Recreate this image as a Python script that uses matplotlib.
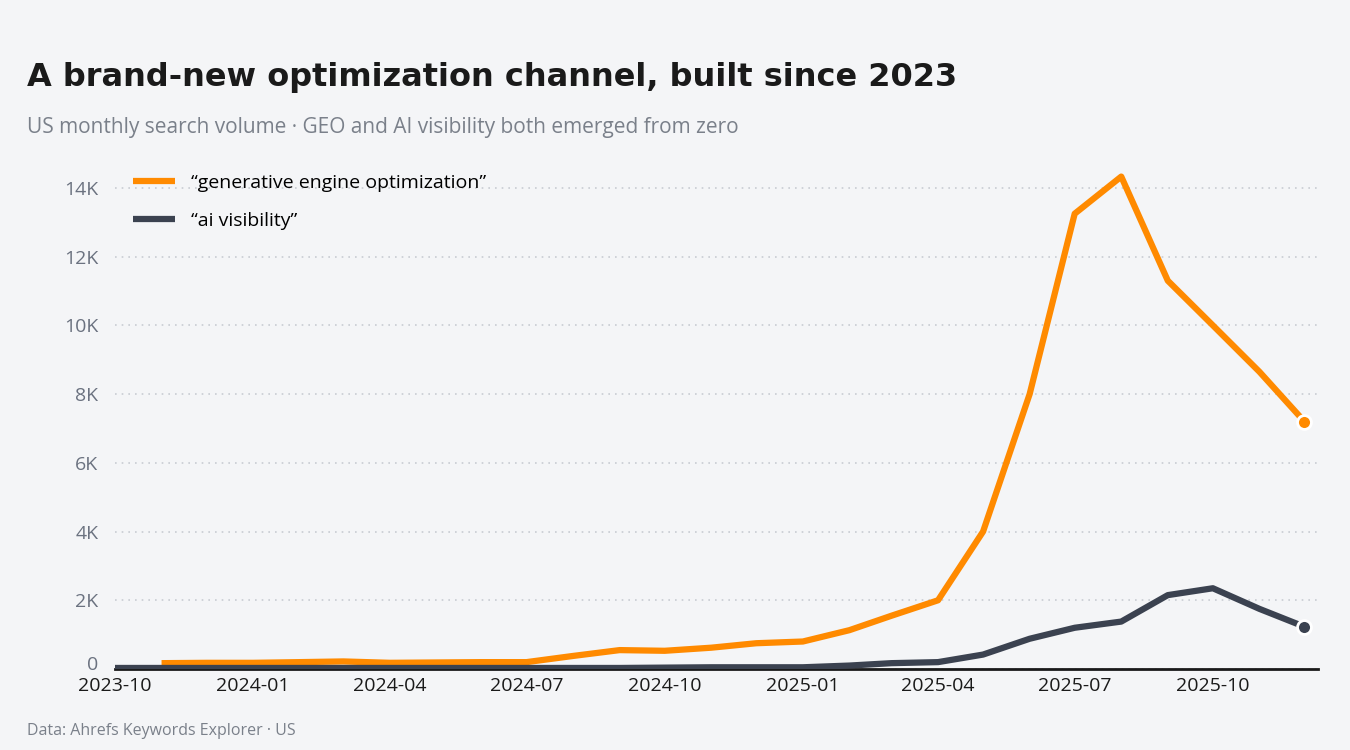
import matplotlib
matplotlib.use("Agg")
import matplotlib.pyplot as plt
import matplotlib.dates as mdates
import matplotlib.transforms as mtransforms
import numpy as np
import pandas as pd

months = pd.date_range("2023-10-01", "2025-12-01", freq="MS")
geo = [np.nan, 170, 180, 180, 200, 220, 180, 190, 200, 200, 380, 550, 530, 620, 750, 800,
       1130, 1550, 2000, 4000, 8000, 13250, 14330, 11300, 10000, 8650, 7200]
aivis = [30, 30, 30, 30, 30, 30, 30, 30, 30, 30, 30, 30, 40, 50, 50, 50,
         100, 170, 200, 420, 880, 1200, 1380, 2150, 2350, 1750, 1230]
series_labels = ["\u201cgenerative engine optimization\u201d", "\u201cai visibility\u201d"]
colors = ["#ff8a00", "#3b4250"]
ytick_vals = [0, 2000, 4000, 6000, 8000, 10000, 12000, 14000]
ytick_labels = ["0", "2K", "4K", "6K", "8K", "10K", "12K", "14K"]

plt.rcParams['font.family'] = ['Open Sans', 'DejaVu Sans']
bg = "#f4f5f7"
fig = plt.figure(figsize=(13.5, 7.5), dpi=100, facecolor=bg)
ax = fig.add_axes([115/1350, 0.108, 1203/1350, 0.69], facecolor=bg)

for vals, lab, c in zip([geo, aivis], series_labels, colors):
    ax.plot(months, vals, color=c, lw=4.5, label=lab, solid_capstyle='butt', zorder=3)
    ax.plot(months[-1], vals[-1], 'o', ms=10, color=c, mec='white', mew=2, zorder=4)

ax.set_ylim(0, 15060)
ax.set_xlim(pd.Timestamp("2023-10-01"), pd.Timestamp("2025-12-10"))
ax.set_yticks(ytick_vals)
ax.set_yticklabels(ytick_labels)
ax.xaxis.set_major_locator(mdates.MonthLocator(bymonth=[1, 4, 7, 10]))
ax.xaxis.set_major_formatter(mdates.DateFormatter("%Y-%m"))
ax.grid(axis='y', color='#c8ccd2', ls=(0, (1, 3)), lw=1.2)
ax.grid(axis='x', visible=False)
for s in ['top', 'right', 'left']:
    ax.spines[s].set_visible(False)
ax.spines['bottom'].set_color('#1a1a1a')
ax.spines['bottom'].set_linewidth(2)
ax.tick_params(axis='y', length=0, labelsize=14, labelcolor='#6b7280', pad=12)
ax.tick_params(axis='x', length=0, labelsize=14, labelcolor='#1a1a1a', pad=6)

zero_lab = ax.get_yticklabels()[0]
zero_lab.set_transform(zero_lab.get_transform() +
                       mtransforms.ScaledTranslation(0, 4/72, fig.dpi_scale_trans))

leg = ax.legend(loc='upper left', bbox_to_anchor=(0.0, 0.99), frameon=False, fontsize=14,
                handlelength=2.2, labelspacing=1.0)

fig.text(0.02, 0.885, "A brand-new optimization channel, built since 2023", fontsize=23,
         fontweight='bold', color='#1a1a1a', family=['DejaVu Sans'])
fig.text(0.02, 0.822, "US monthly search volume \u00b7 GEO and AI visibility both emerged from zero",
         fontsize=15, color='#7a808a')
fig.text(0.02, 0.02, "Data: Ahrefs Keywords Explorer \u00b7 US", fontsize=11.5, color='#7a808a')
fig.savefig("out.png", dpi=100, facecolor=bg)
